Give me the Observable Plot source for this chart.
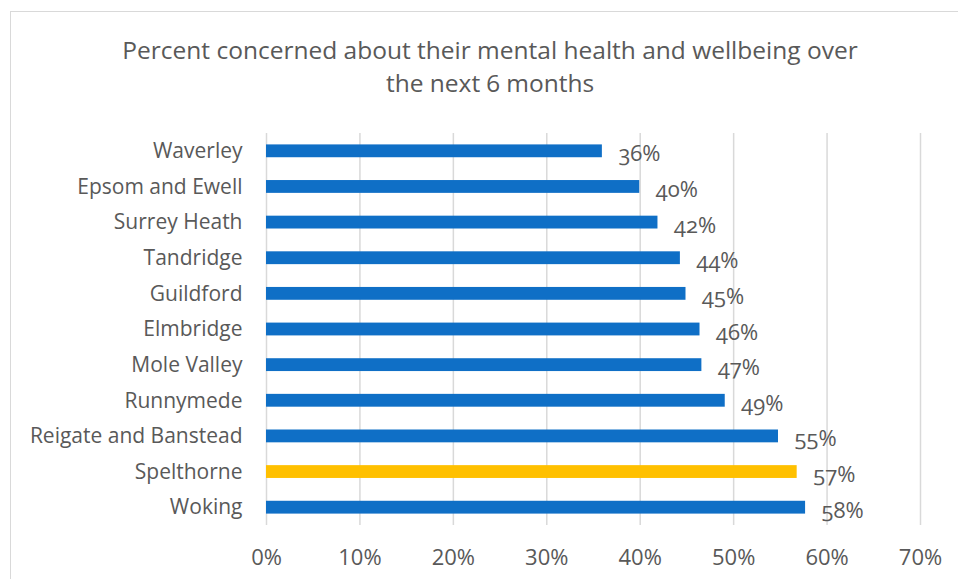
<!DOCTYPE html>
<html>
<head>
<meta charset="utf-8">
<script src="https://cdn.jsdelivr.net/npm/d3@7"></script>
<script src="https://cdn.jsdelivr.net/npm/@observablehq/plot@0.6"></script>
<style>
  body { margin: 0; background: #fff; }
  #wrap { position: relative; width: 958px; height: 579px; overflow: hidden; font-family: "Open Sans", sans-serif; font-variant-numeric: oldstyle-nums; }
  #frame { position: absolute; left: 10px; top: 11px; width: 1000px; height: 1000px; border: 1px solid #d9d9d9; box-sizing: border-box; }
  #title { position: absolute; left: 0; width: 980px; top: 33px; text-align: center; color: #595959; font-size: 24.5px; line-height: 33px; }
  #chart { position: absolute; left: 0; top: 0; }
  #chart svg { font-variant-numeric: oldstyle-nums; }
</style>
</head>
<body>
<div id="wrap">
  <div id="frame"></div>
  <div id="chart"></div>
  <div id="title">Percent concerned about their mental health and wellbeing over<br>the next 6 months</div>
</div>
<script>
const districts = ["Waverley", "Epsom and Ewell", "Surrey Heath", "Tandridge", "Guildford", "Elmbridge", "Mole Valley", "Runnymede", "Reigate and Banstead", "Spelthorne", "Woking"];
const values = [0.3595, 0.3995, 0.419, 0.443, 0.449, 0.464, 0.466, 0.491, 0.548, 0.568, 0.577];
const highlight = "Spelthorne";
const xTicks = [0, 0.1, 0.2, 0.3, 0.4, 0.5, 0.6, 0.7];

const data = districts.map((d, i) => ({district: d, value: values[i]}));
const pct = d3.format(".0%");

const chart = Plot.plot({
  width: 958,
  height: 579,
  marginLeft: 266,
  marginRight: 38,
  marginTop: 133,
  marginBottom: 54,
  style: {fontFamily: "'Open Sans', sans-serif", fontSize: "21px", color: "#595959", background: "transparent"},
  x: {domain: [0, 0.7], ticks: xTicks, tickFormat: pct},
  y: {domain: districts, padding: 0.64, paddingOuter: 0.32, round: false},
  marks: [
    Plot.ruleX(xTicks, {x: d => d, stroke: "#d9d9d9", strokeWidth: 1.5}),
    Plot.barX(data, {x: "value", y: "district", fill: d => d.district === highlight ? "#ffc000" : "#0f6fc6"}),
    Plot.text(data, {x: "value", y: "district", text: d => pct(d.value), textAnchor: "start", dx: 16, dy: 3, fill: "#595959", fontSize: 22}),
    Plot.axisX({ticks: xTicks, tickFormat: pct, tickSize: 0, tickPadding: 24, fontSize: 22, fill: "#595959", label: null}),
    Plot.axisY({tickSize: 0, tickPadding: 24, fontSize: 21, fill: "#595959", label: null})
  ]
});
document.getElementById("chart").appendChild(chart);
</script>
</body>
</html>
